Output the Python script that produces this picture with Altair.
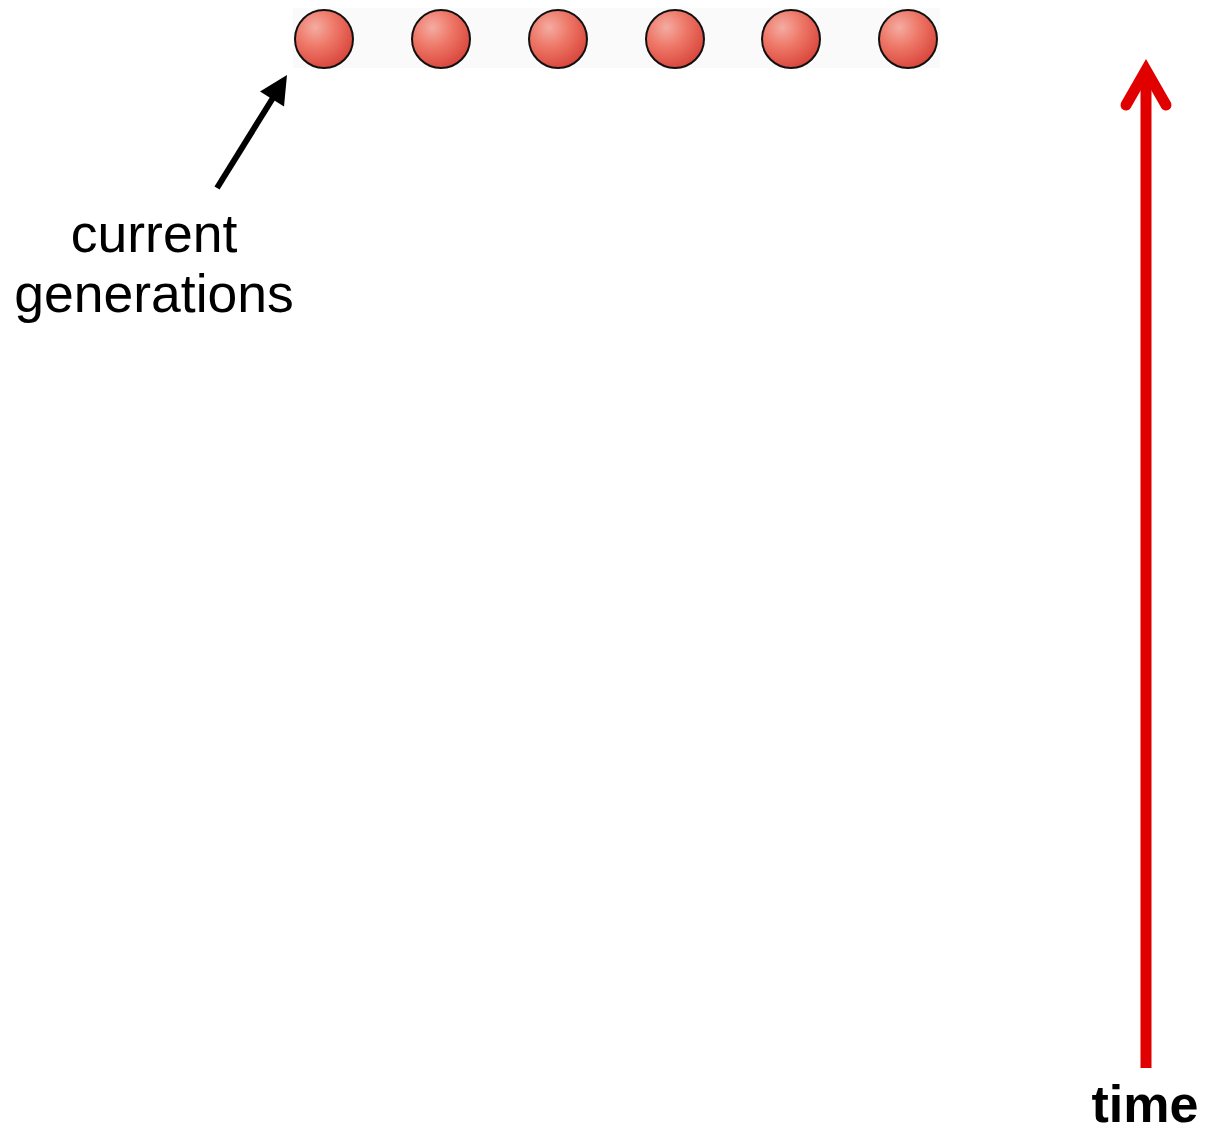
import altair as alt
import pandas as pd

# ---- data (diagram layout frame in canvas units) ----
individuals = ["1", "2", "3", "4", "5", "6"]
ind_x = [324, 441, 558, 675, 791, 908]
ind_y = [39, 39, 39, 39, 39, 39]

band_x = [293]
band_x2 = [940]
band_y = [8]
band_y2 = [68]

time_shaft_x = [1146]
time_shaft_y = [1068]
time_shaft_y2 = [80]

time_head_x = [1126, 1146, 1166]
time_head_y = [105, 70, 105]

pointer_x = [217]
pointer_y = [188]
pointer_x2 = [276]
pointer_y2 = [93]
pointer_head_x = [279.5]
pointer_head_y = [87]

label_text = ["current", "generations"]
label_x = [154, 154]
label_y = [252, 312]

time_text = ["time"]
time_text_x = [1145]
time_text_y = [1122]

W, H = 1202, 1119
xs = alt.Scale(domain=[8, 8 + W], nice=False, zero=False)
ys = alt.Scale(domain=[8, 8 + H], reverse=True, nice=False, zero=False)

def X(f):
    return alt.X(f, type="quantitative", scale=xs, axis=None)

def Y(f):
    return alt.Y(f, type="quantitative", scale=ys, axis=None)

band = alt.Chart(pd.DataFrame({"x": band_x, "x2": band_x2, "y": band_y, "y2": band_y2})).mark_rect(
    fill="#fafafa"
).encode(x=X("x"), x2="x2", y=Y("y"), y2="y2")

grad = alt.RadialGradient(
    gradient="radial",
    stops=[
        alt.GradientStop(color="#f4aca2", offset=0),
        alt.GradientStop(color="#ee7868", offset=0.45),
        alt.GradientStop(color="#d8443a", offset=1),
    ],
    x1=0.35, y1=0.3, r1=0,
    x2=0.35, y2=0.3, r2=0.75,
)

circles = alt.Chart(pd.DataFrame({"ind": individuals, "x": ind_x, "y": ind_y})).mark_circle(
    fill=grad, stroke="#111111", strokeWidth=2, opacity=1, size=3364
).encode(x=X("x"), y=Y("y"))

shaft = alt.Chart(pd.DataFrame({"x": time_shaft_x, "y": time_shaft_y, "y2": time_shaft_y2})).mark_rule(
    color="#e00000", strokeWidth=11, strokeCap="butt"
).encode(x=X("x"), y=Y("y"), y2="y2")

head = alt.Chart(pd.DataFrame({"x": time_head_x, "y": time_head_y, "o": [0, 1, 2]})).mark_line(
    color="#e00000", strokeWidth=11, strokeCap="round", strokeJoin="miter", strokeMiterLimit=10
).encode(x=X("x"), y=Y("y"), order="o:Q")

pointer = alt.Chart(pd.DataFrame({"x": pointer_x, "y": pointer_y, "x2": pointer_x2, "y2": pointer_y2})).mark_rule(
    color="black", strokeWidth=6, strokeCap="butt"
).encode(x=X("x"), y=Y("y"), x2="x2", y2="y2")

pointer_head = alt.Chart(pd.DataFrame({"x": pointer_head_x, "y": pointer_head_y})).mark_point(
    shape="M0,-1L1,1L-1,1Z", filled=True, fill="black", opacity=1, size=800, angle=32
).encode(x=X("x"), y=Y("y"))

labels = alt.Chart(pd.DataFrame({"t": label_text, "x": label_x, "y": label_y})).mark_text(
    font="Liberation Sans", fontSize=53.5, align="center", baseline="alphabetic", color="black"
).encode(x=X("x"), y=Y("y"), text="t:N")

tlabel = alt.Chart(pd.DataFrame({"t": time_text, "x": time_text_x, "y": time_text_y})).mark_text(
    font="Liberation Sans", fontSize=52, fontWeight="bold", align="center", baseline="alphabetic", color="black"
).encode(x=X("x"), y=Y("y"), text="t:N")

chart = alt.layer(band, circles, shaft, head, pointer, pointer_head, labels, tlabel).properties(
    width=W, height=H, padding=0, background="white",
    autosize=alt.AutoSizeParams(type="none"),
).configure_view(stroke=None)

chart.save("out.html", embed_options={"renderer": "svg", "actions": False})
